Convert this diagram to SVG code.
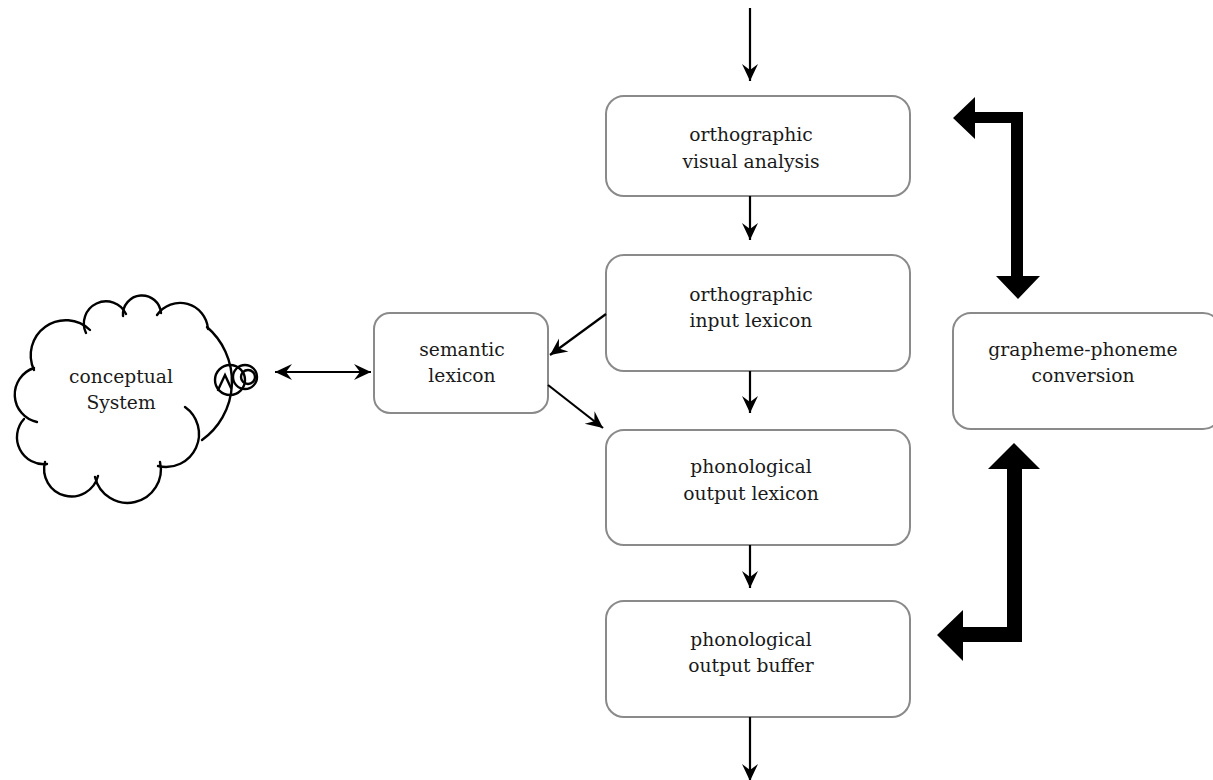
<svg xmlns="http://www.w3.org/2000/svg" width="1213" height="780" viewBox="0 0 1213 780">
  <style>
    .box { fill: #ffffff; stroke: #8a8a8a; stroke-width: 2; }
    .lbl { font-family: "DejaVu Serif", "Liberation Serif", serif; font-size: 18.7px; fill: #1a1a1a; text-anchor: middle; }
    .thin { stroke: #000000; stroke-width: 2.2; fill: none; }
    .cloud { stroke: #000000; stroke-width: 2.4; fill: none; stroke-linecap: round; }
    .thick { fill: #000000; stroke: none; }
  </style>
  <defs>
    <marker id="ah" viewBox="-18 -9 19 18" refX="0" refY="0" markerWidth="19" markerHeight="18" markerUnits="userSpaceOnUse" orient="auto-start-reverse">
      <path d="M0,0 L-17,-8 L-11,0 L-17,8 Z" fill="#000000"/>
    </marker>
  </defs>
  <rect width="1213" height="780" fill="#ffffff"/>

  <g id="conceptual-system">
    <path class="cloud" d="M34,370 A35,35 0 0 1 90,330"/>
    <path class="cloud" d="M86,333 A22,22 0 0 1 126,314"/>
    <path class="cloud" d="M123,316 A19,19 0 0 1 161,313"/>
    <path class="cloud" d="M157,315 A28,28 0 0 1 208,329"/>
    <path class="cloud" d="M207,327 A72,72 0 0 1 202,440"/>
    <path class="cloud" d="M185,407 A33,33 0 0 1 158,466"/>
    <path class="cloud" d="M160,462 A33,33 0 0 1 95,477"/>
    <path class="cloud" d="M98,476 A27,27 0 0 1 45,462"/>
    <path class="cloud" d="M47,464 A27,27 0 0 1 24,419"/>
    <path class="cloud" d="M37,422 A28,28 0 0 1 34,368"/>
    <circle class="cloud" cx="230" cy="380" r="15"/>
    <circle class="cloud" cx="245" cy="377" r="12"/>
    <circle class="cloud" cx="248" cy="377" r="7"/>
    <path class="cloud" d="M218,390 L225,375 L231,388"/>
    <text class="lbl" x="121" y="383">conceptual</text>
    <text class="lbl" x="121" y="409">System</text>
  </g>

  <g id="semantic-lexicon">
    <rect class="box" x="374" y="313" width="174" height="100" rx="16"/>
    <text class="lbl" x="462" y="356">semantic</text>
    <text class="lbl" x="462" y="382">lexicon</text>
  </g>

  <g id="orthographic-visual-analysis">
    <rect class="box" x="606" y="96" width="304" height="100" rx="18"/>
    <text class="lbl" x="751" y="141">orthographic</text>
    <text class="lbl" x="751" y="168">visual analysis</text>
  </g>

  <g id="orthographic-input-lexicon">
    <rect class="box" x="606" y="255" width="304" height="116" rx="18"/>
    <text class="lbl" x="751" y="301">orthographic</text>
    <text class="lbl" x="751" y="327">input lexicon</text>
  </g>

  <g id="phonological-output-lexicon">
    <rect class="box" x="606" y="430" width="304" height="115" rx="18"/>
    <text class="lbl" x="751" y="473">phonological</text>
    <text class="lbl" x="751" y="500">output lexicon</text>
  </g>

  <g id="phonological-output-buffer">
    <rect class="box" x="606" y="601" width="304" height="116" rx="18"/>
    <text class="lbl" x="751" y="646">phonological</text>
    <text class="lbl" x="751" y="672">output buffer</text>
  </g>

  <g id="grapheme-phoneme-conversion">
    <rect class="box" x="953" y="313" width="268" height="116" rx="18"/>
    <text class="lbl" x="1083" y="356">grapheme-phoneme</text>
    <text class="lbl" x="1083" y="382">conversion</text>
  </g>

  <g id="connectors">
    <line class="thin" x1="750" y1="8" x2="750" y2="81" marker-end="url(#ah)"/>
    <line class="thin" x1="750" y1="196" x2="750" y2="240" marker-end="url(#ah)"/>
    <line class="thin" x1="750" y1="371" x2="750" y2="413" marker-end="url(#ah)"/>
    <line class="thin" x1="750" y1="545" x2="750" y2="588" marker-end="url(#ah)"/>
    <line class="thin" x1="750" y1="717" x2="750" y2="781" marker-end="url(#ah)"/>
    <line class="thin" x1="606" y1="314" x2="550" y2="355" marker-end="url(#ah)"/>
    <line class="thin" x1="548" y1="385" x2="603" y2="428" marker-end="url(#ah)"/>
    <line class="thin" x1="275" y1="372" x2="371" y2="372" marker-start="url(#ah)" marker-end="url(#ah)"/>
    <polygon class="thick" points="953,118 975,97 975,112 1023,112 1023,276 1040,276 1018,299 996,276 1011,276 1011,123 975,123 975,139"/>
    <polygon class="thick" points="1014,443 1040,469 1022,469 1022,642 963,642 963,661 937,635 963,610 963,627 1007,627 1007,469 988,469"/>
  </g>
</svg>
